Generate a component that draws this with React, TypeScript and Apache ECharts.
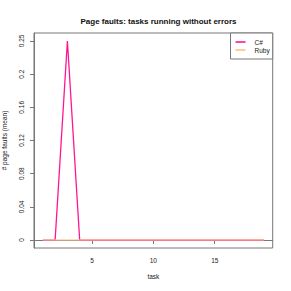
import React, { useEffect, useRef } from "react";
import * as echarts from "echarts";

const tasks = [1, 2, 3, 4, 5, 6, 7, 8, 9, 10, 11, 12, 13, 14, 15, 16, 17, 18, 19];
const csharp = [0, 0, 0.25, 0, 0, 0, 0, 0, 0, 0, 0, 0, 0, 0, 0, 0, 0, 0, 0];
const ruby = [0, 0, 0, 0, 0, 0, 0, 0, 0, 0, 0, 0, 0, 0, 0, 0, 0, 0, 0];
const xTicks = [5, 10, 15];
const yTickValues = [0, 0.25 / 6, 0.5 / 6, 0.75 / 6, 1 / 6, 1.25 / 6, 0.25];
const yTickLabels = ["0", "0.04", "0.08", "0.12", "0.16", "0.2", "0.25"];

const FONT = "Liberation Sans, Arial, sans-serif";
const AXIS_COLOR = "#777";

export default function App() {
  const ref = useRef<HTMLDivElement>(null);
  useEffect(() => {
    if (!ref.current) return;
    const chart = echarts.init(ref.current, undefined, { renderer: "svg" });
    chart.setOption({
      animation: false,
      backgroundColor: "#fff",
      textStyle: { fontFamily: FONT },
      title: {
        text: "Page faults: tasks running without errors",
        left: 153.5,
        textAlign: "center",
        top: 12,
        textStyle: { fontSize: 8, fontWeight: "bold", color: "#111", fontFamily: FONT },
      },
      legend: {
        right: 18.3,
        top: 33,
        orient: "vertical",
        backgroundColor: "#fff",
        borderColor: AXIS_COLOR,
        borderWidth: 1,
        borderRadius: 0,
        padding: [5, 3, 5, 5],
        itemGap: 0,
        itemWidth: 10,
        itemHeight: 1.6,
        icon: "rect",
        textStyle: { fontSize: 6.5, lineHeight: 8, color: "#222", fontFamily: FONT, padding: [0, 0, 0, 4] },
        data: ["C#", "Ruby"],
      },
      grid: {
        left: 34,
        top: 33,
        right: 18.3,
        bottom: 43,
        show: true,
        borderColor: AXIS_COLOR,
        borderWidth: 1,
        containLabel: false,
        outerBoundsMode: "none",
      },
      xAxis: {
        type: "value",
        min: 0.28,
        max: 19.72,
        name: "task",
        nameLocation: "middle",
        nameGap: 25,
        nameTextStyle: { fontSize: 6.5, color: "#222", fontFamily: FONT },
        axisLine: { show: true, lineStyle: { color: AXIS_COLOR } },
        axisTick: { show: true, length: 4, inside: false, customValues: xTicks, lineStyle: { color: AXIS_COLOR } },
        axisLabel: { customValues: xTicks, fontSize: 6.5, color: "#222", margin: 9, fontFamily: FONT },
        splitLine: { show: false },
      },
      yAxis: {
        type: "value",
        min: -0.01,
        max: 0.26,
        name: "# page faults (mean)",
        nameLocation: "middle",
        nameGap: 26,
        nameTextStyle: { fontSize: 6.5, color: "#222", fontFamily: FONT },
        axisLine: { show: true, lineStyle: { color: AXIS_COLOR } },
        axisTick: { show: true, length: 4, inside: false, customValues: yTickValues, lineStyle: { color: AXIS_COLOR } },
        axisLabel: {
          customValues: yTickValues,
          rotate: 90,
          fontSize: 6.5,
          color: "#222",
          margin: 9,
          fontFamily: FONT,
          formatter: (v: number) => {
            let best = 0;
            for (let i = 0; i < yTickValues.length; i++) {
              if (Math.abs(yTickValues[i] - v) < Math.abs(yTickValues[best] - v)) best = i;
            }
            return yTickLabels[best];
          },
        },
        splitLine: { show: false },
      },
      series: [
        {
          name: "C#",
          type: "line",
          data: tasks.map((t, i) => [t, csharp[i]]),
          showSymbol: false,
          symbol: "none",
          color: "#FF1493",
          lineStyle: { color: "#FF1493", width: 1.3 },
          z: 2,
        },
        {
          name: "Ruby",
          type: "line",
          data: tasks.map((t, i) => [t, ruby[i]]),
          showSymbol: false,
          symbol: "none",
          color: "#FDC086",
          lineStyle: { color: "#FDC086", width: 1.6, opacity: 0.75 },
          z: 3,
        },
      ],
    });
    return () => chart.dispose();
  }, []);
  return <div ref={ref} style={{ position: "fixed", left: 0, top: 0, width: 291, height: 291 }} />;
}
